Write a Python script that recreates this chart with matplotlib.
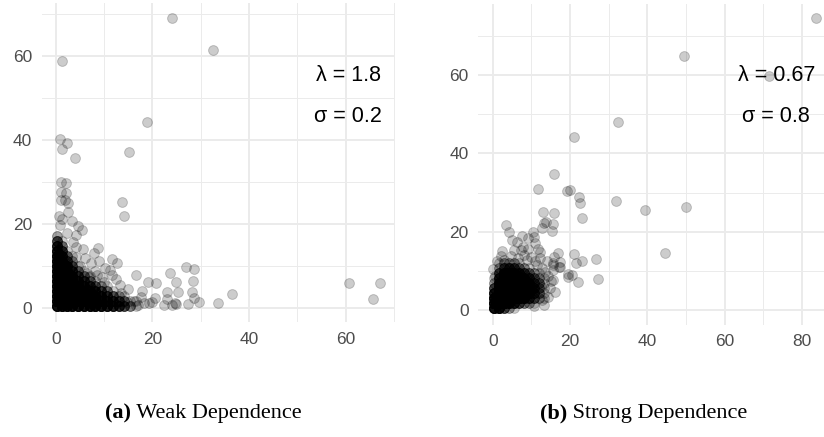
# -*- coding: utf-8 -*-
"""
Copula scatter plots: weak vs strong dependence
"""

import numpy as np
import matplotlib
matplotlib.use("Agg")
import matplotlib.pyplot as plt

# ============================================================
# Data
# ============================================================

# scattered points outside the dense core, (x, y)
weak_pts = [
    (24.1, 69.0), (32.6, 61.4), (1.4, 58.8), (18.8, 44.4), (0.8, 40.2),
    (2.3, 39.4), (1.3, 37.9), (3.9, 35.6), (15.2, 37.1), (1.1, 29.9),
    (2.1, 29.8), (1.1, 27.7), (2.1, 27.3), (1.1, 25.7), (1.9, 25.7),
    (2.6, 24.9), (2.6, 22.9), (13.7, 25.3), (14.2, 21.9), (0.6, 22.0),
    (1.2, 21.3), (0.9, 19.8), (3.3, 20.6), (4.7, 19.5), (5.4, 18.6),
    (4.3, 17.4), (2.3, 17.8), (8.7, 14.4), (7.9, 13.0), (4.1, 14.6),
    (4.2, 12.2), (11.7, 11.7), (12.6, 10.6), (5.0, 10.0), (8.1, 8.9),
    (8.5, 7.9), (6.4, 8.3), (11.2, 9.0), (11.6, 7.9), (9.9, 6.3),
    (9.5, 7.5), (6.8, 7.5), (13.4, 5.5), (13.6, 3.5), (16.6, 7.9),
    (17.9, 4.0), (19.0, 6.3), (20.8, 5.9), (23.7, 8.3), (24.8, 6.3),
    (27.0, 9.7), (28.6, 9.4), (28.4, 6.5), (23.0, 3.7), (25.2, 3.9),
    (28.1, 3.9), (28.7, 2.5), (29.7, 1.5), (27.4, 1.0), (33.6, 1.1),
    (36.4, 3.3), (23.0, 2.1), (24.7, 1.3), (24.9, 1.0), (22.5, 0.7),
    (24.1, 0.7), (20.6, 2.5), (20.0, 1.5), (19.3, 1.3), (18.3, 1.1),
    (17.1, 0.7), (16.1, 1.7), (14.7, 1.5), (60.7, 6.0), (67.0, 5.9),
    (65.7, 2.1), (3.6, 15.8), (6.0, 12.0), (7.2, 10.6), (10.2, 9.6),
    (12.4, 6.8), (15.0, 4.6), (17.6, 2.6), (5.6, 14.0), (9.0, 11.2),
]

# dense core: number of points per (x, y) cell
weak_core_x = [0.3, 1.3, 2.3, 3.4, 4.6, 5.8, 7.0, 8.2, 9.4, 10.6, 11.8, 13.0, 14.2, 15.4, 16.6]
weak_core_y = [0.4, 1.6, 2.8, 4.0, 5.2, 6.4, 7.6, 8.8, 10.0, 11.2, 12.4, 13.6, 14.8, 16.0, 17.2]
weak_core_n = [
    [12, 12, 12, 12, 12, 12, 12, 12, 12, 12, 12, 10, 8, 5, 2],
    [12, 12, 12, 12, 12, 12, 12, 12, 12, 10, 8, 6, 3, 1, 0],
    [12, 12, 12, 12, 12, 12, 12, 10, 8, 5, 3, 1, 0, 0, 0],
    [12, 12, 12, 12, 12, 12, 10, 7, 4, 2, 1, 0, 0, 0, 0],
    [12, 12, 12, 12, 12, 9, 6, 3, 1, 0, 0, 0, 0, 0, 0],
    [12, 12, 12, 12, 9, 6, 3, 1, 0, 0, 0, 0, 0, 0, 0],
    [12, 12, 12, 9, 6, 3, 1, 0, 0, 0, 0, 0, 0, 0, 0],
    [12, 12, 10, 7, 4, 1, 0, 0, 0, 0, 0, 0, 0, 0, 0],
    [12, 10, 8, 5, 2, 0, 0, 0, 0, 0, 0, 0, 0, 0, 0],
    [10, 9, 6, 3, 1, 0, 0, 0, 0, 0, 0, 0, 0, 0, 0],
    [9, 7, 4, 1, 0, 0, 0, 0, 0, 0, 0, 0, 0, 0, 0],
    [7, 5, 2, 0, 0, 0, 0, 0, 0, 0, 0, 0, 0, 0, 0],
    [5, 3, 1, 0, 0, 0, 0, 0, 0, 0, 0, 0, 0, 0, 0],
    [3, 1, 0, 0, 0, 0, 0, 0, 0, 0, 0, 0, 0, 0, 0],
    [1, 1, 0, 0, 0, 0, 0, 0, 0, 0, 0, 0, 0, 0, 0],
]

strong_pts = [
    (83.7, 74.5), (49.5, 64.9), (71.4, 59.8), (32.3, 48.0), (21.0, 44.2),
    (15.8, 34.7), (11.7, 31.0), (19.2, 30.5), (20.0, 30.6), (22.3, 28.8),
    (22.6, 27.4), (31.9, 27.8), (23.2, 23.5), (39.5, 25.5), (50.0, 26.4),
    (13.0, 25.0), (15.8, 24.7), (13.7, 22.4), (13.3, 22.1), (12.8, 20.9),
    (15.7, 21.9), (15.4, 20.3), (3.4, 21.7), (4.1, 19.8), (10.5, 19.8),
    (10.8, 18.7), (9.1, 18.3), (4.9, 17.9), (6.2, 17.3), (7.9, 16.2),
    (9.2, 15.7), (11.8, 15.7), (12.2, 14.9), (44.5, 14.6), (26.8, 12.9),
    (27.3, 8.0), (21.1, 14.2), (23.2, 12.5), (21.5, 12.1), (15.9, 13.6),
    (15.7, 11.9), (17.5, 12.3), (17.3, 11.1), (15.7, 10.2), (19.4, 9.2),
    (20.4, 8.9), (19.4, 8.5), (22.1, 7.2), (16.1, 4.6), (15.7, 7.7),
    (2.1, 13.9), (0.6, 8.8), (9.9, 13.6), (8.1, 14.0), (12.2, 13.2),
    (10.9, 12.4), (14.1, 12.6), (17.2, 11.0), (15.5, 11.4), (15.2, 7.3),
    (12.7, 2.6), (14.4, 3.4), (12.6, 6.0), (1.2, 12.5), (6.5, 13.2),
    (4.8, 13.8), (3.0, 12.8), (13.5, 9.8), (14.2, 8.6), (12.8, 10.8),
    (11.5, 11.5), (8.8, 12.8), (14.8, 5.6), (13.2, 1.4), (10.8, 1.0),
    (0.2, 10.4), (2.4, 15.0), (7.2, 15.3), (5.5, 15.2), (16.9, 14.6),
    (11.0, 17.0), (7.6, 19.0),
]

strong_core_x = [0.4, 1.7, 3.0, 4.3, 5.6, 6.9, 8.2, 9.5, 10.8, 12.1, 13.4]
strong_core_y = [0.4, 1.7, 3.0, 4.3, 5.6, 6.9, 8.2, 9.5, 10.8, 12.1]
strong_core_n = [
    [12, 12, 12, 9, 5, 2, 1, 0, 0, 0],
    [12, 12, 12, 12, 12, 11, 8, 5, 2, 1],
    [5, 12, 12, 12, 12, 12, 12, 9, 5, 2],
    [2, 10, 12, 12, 12, 12, 12, 10, 6, 2],
    [1, 8, 12, 12, 12, 12, 12, 9, 5, 2],
    [0, 5, 10, 12, 12, 12, 10, 7, 3, 1],
    [0, 3, 9, 12, 12, 10, 8, 5, 2, 0],
    [0, 2, 6, 9, 9, 8, 6, 3, 1, 0],
    [0, 1, 4, 6, 6, 5, 3, 2, 0, 0],
    [0, 0, 2, 3, 3, 3, 2, 1, 0, 0],
    [0, 0, 1, 1, 1, 1, 1, 0, 0, 0],
]

weak_labels = ["λ = 1.8", "σ = 0.2"]
strong_labels = ["λ = 0.67", "σ = 0.8"]
captions = [("(a)", " Weak Dependence"), ("(b)", " Strong Dependence")]


def expand_core(xs, ys, counts):
    gx, gy = np.meshgrid(xs, ys, indexing="ij")
    n = np.array(counts).ravel()
    return np.repeat(gx.ravel(), n), np.repeat(gy.ravel(), n)


# ============================================================
# Figure
# ============================================================

W, H = 824, 437
fig = plt.figure(figsize=(W / 100, H / 100), dpi=100)


def style_axes(ax, xmajor, xminor, ymajor, yminor):
    ax.set_facecolor("white")
    for s in ax.spines.values():
        s.set_visible(False)
    ax.set_xticks(xmajor)
    ax.set_xticks(xminor, minor=True)
    ax.set_yticks(ymajor)
    ax.set_yticks(yminor, minor=True)
    ax.grid(which="major", color="#EBEBEB", linewidth=1.4, zorder=0)
    ax.grid(which="minor", color="#EBEBEB", linewidth=0.7, zorder=0)
    ax.tick_params(which="both", length=0, pad=7, colors="#4D4D4D")
    for lab in ax.get_xticklabels() + ax.get_yticklabels():
        lab.set_fontfamily("Liberation Sans")
        lab.set_fontsize(12.5)
    ax.set_axisbelow(True)


def draw_points(ax, pts, core):
    px = np.array([p[0] for p in pts])
    py = np.array([p[1] for p in pts])
    cx, cy = expand_core(*core)
    x = np.concatenate([cx, px])
    y = np.concatenate([cy, py])
    ax.scatter(x, y, s=50, facecolor=(0, 0, 0, 0.2), edgecolor=(0, 0, 0, 0.2),
               linewidths=0.7, zorder=2, clip_on=False)


# ---- (a) weak dependence
ax1 = fig.add_axes([41.7 / W, 1 - 322 / H, (395 - 41.7) / W, (322 - 3.5) / H])
ax1.set_xlim(-2.9, 70.2)
ax1.set_ylim(-3.33, 72.5)
draw_points(ax1, weak_pts, (weak_core_x, weak_core_y, weak_core_n))
style_axes(ax1, [0, 20, 40, 60], [10, 30, 50, 70], [0, 20, 40, 60], [10, 30, 50, 70])
ax1.text(60.5, 55.3, weak_labels[0], ha="center", va="center",
         fontsize=15.5, family="Liberation Sans", zorder=3)
ax1.text(60.5, 45.5, weak_labels[1], ha="center", va="center",
         fontsize=15.5, family="Liberation Sans", zorder=3)

# ---- (b) strong dependence (panel runs past the right edge)
ax2 = fig.add_axes([478.3 / W, 1 - 324.6 / H, (832.4 - 478.3) / W, (324.6 - 3.8) / H])
ax2.set_xlim(-3.73, 87.9)
ax2.set_ylim(-3.73, 78.2)
draw_points(ax2, strong_pts, (strong_core_x, strong_core_y, strong_core_n))
style_axes(ax2, [0, 20, 40, 60, 80], [10, 30, 50, 70], [0, 20, 40, 60], [10, 30, 50, 70])
ax2.text(73.5, 59.8, strong_labels[0], ha="center", va="center",
         fontsize=15.5, family="Liberation Sans", zorder=3)
ax2.text(73.3, 49.3, strong_labels[1], ha="center", va="center",
         fontsize=15.5, family="Liberation Sans", zorder=3)

# ---- subfigure captions: bold label then normal text
renderer = fig.canvas.get_renderer()
for (bold, rest), x0 in zip(captions, [105, 540]):
    t = fig.text(x0 / W, 1 - 418.3 / H, bold, fontsize=16, fontweight="bold",
                 family="Liberation Serif", ha="left", va="baseline")
    bb = t.get_window_extent(renderer)
    fig.text(bb.x1 / W, 1 - 418.3 / H, rest, fontsize=16,
             family="Liberation Serif", ha="left", va="baseline")

fig.savefig("out.png", dpi=100, facecolor="white")
